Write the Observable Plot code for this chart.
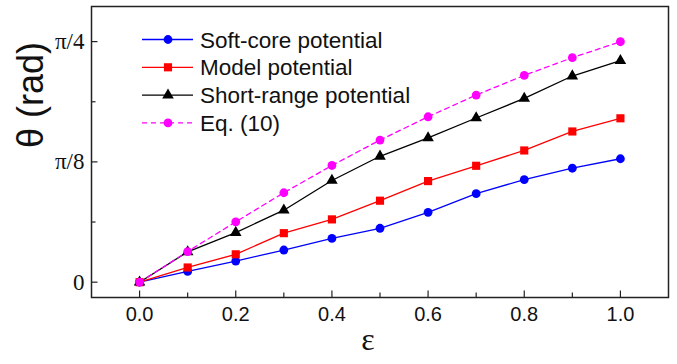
<!DOCTYPE html>
<html>
<head>
<meta charset="utf-8">
<script src="https://cdn.jsdelivr.net/npm/d3@7"></script>
<script src="https://cdn.jsdelivr.net/npm/@observablehq/plot@0.6"></script>
<style>
  html, body { margin: 0; padding: 0; background: #fff; }
  #chart svg { display: block; }
</style>
</head>
<body>
<div id="chart"></div>
<script>
// ---- data ----
const eps = [0.0, 0.1, 0.2, 0.3, 0.4, 0.5, 0.6, 0.7, 0.8, 0.9, 1.0];
const softCore   = [0, 0.035, 0.069, 0.105, 0.143, 0.176, 0.228, 0.289, 0.335, 0.372, 0.403];
const model      = [0, 0.048, 0.091, 0.160, 0.205, 0.266, 0.330, 0.380, 0.430, 0.492, 0.535];
const shortRange = [0, 0.099, 0.162, 0.235, 0.332, 0.411, 0.471, 0.536, 0.600, 0.673, 0.723];
const eq10       = [0, 0.100, 0.197, 0.292, 0.381, 0.464, 0.540, 0.611, 0.675, 0.733, 0.785];

const seriesNames = ["Soft-core potential", "Model potential", "Short-range potential", "Eq. (10)"];
const seriesColors = ["#0000ff", "#ff0000", "#000000", "#ff00ff"];
const seriesSymbols = ["circle", "square", "triangle", "circle"];
const seriesDash = [null, null, null, "5,4"];
const seriesValues = [softCore, model, shortRange, eq10];

const xMajorTicks = [0.0, 0.2, 0.4, 0.6, 0.8, 1.0];
const xMinorTicks = [0.1, 0.3, 0.5, 0.7, 0.9];
const yMajorTicks = [0, Math.PI / 8, Math.PI / 4];
const yMajorLabels = ["0", "π/8", "π/4"];
const yMinorTicks = [Math.PI / 16, 3 * Math.PI / 16];

// ---- layout ----
const W = 677, H = 364;
const mL = 91, mR = 9, mT = 6, mB = 67;
const frameW = W - mL - mR, frameH = H - mT - mB;

const marks = [];
seriesValues.forEach((vals, i) => {
  const data = eps.map((e, k) => ({x: e, y: vals[k]}));
  marks.push(Plot.line(data, {
    x: "x", y: "y", stroke: seriesColors[i], strokeWidth: 1.3,
    strokeDasharray: seriesDash[i] || undefined
  }));
});
const markerR = [4.4, 4.6, 4.3, 4.4];
seriesValues.forEach((vals, i) => {
  const data = eps.map((e, k) => ({x: e, y: vals[k]}));
  marks.push(Plot.dot(data, {
    x: "x", y: "y", symbol: () => seriesSymbols[i], fill: seriesColors[i],
    stroke: "none", r: markerR[i]
  }));
});

const svg = Plot.plot({
  width: W, height: H,
  marginLeft: mL, marginRight: mR, marginTop: mT, marginBottom: mB,
  style: {background: "#fff", overflow: "visible"},
  x: {domain: [-0.1, 1.1]},
  y: {domain: [-0.05, 0.9]},
  symbol: {type: "identity"},
  marks: [
    ...marks,
    // inward ticks
    Plot.tickX(xMajorTicks, {x: d => d, insetTop: frameH - 6.5, stroke: "#222", strokeWidth: 1.2}),
    Plot.tickX(xMinorTicks, {x: d => d, insetTop: frameH - 4.5, stroke: "#222", strokeWidth: 1.2}),
    Plot.tickY(yMajorTicks, {y: d => d, insetRight: frameW - 6.5, stroke: "#222", strokeWidth: 1.2}),
    Plot.tickY(yMinorTicks, {y: d => d, insetRight: frameW - 4.5, stroke: "#222", strokeWidth: 1.2}),
    Plot.axisX({ticks: xMajorTicks, tickFormat: d3.format(".1f"), tickSize: 0, tickPadding: 9,
      fontSize: 20, fontFamily: "Liberation Sans, Arial, sans-serif", label: null, fill: "#111"}),
    Plot.axisY({ticks: yMajorTicks, tickFormat: (d, i) => yMajorLabels[i], tickSize: 0, tickPadding: 7,
      fontSize: 23, fontFamily: "Liberation Serif, Times New Roman, serif", label: null, fill: "#111"}),
    Plot.text(["θ (rad)"], {frameAnchor: "left", dx: -60, dy: -4, rotate: -90, fontSize: 36,
      fontFamily: "Liberation Sans, Arial, sans-serif", fill: "#111"}),
    Plot.text(["ε"], {frameAnchor: "bottom", dx: -12, dy: 52, fontSize: 32,
      fontFamily: "Liberation Serif, Times New Roman, serif", fill: "#111"}),
    Plot.frame({stroke: "#222", strokeWidth: 1.5})
  ]
});

// legend inside the frame
const g = d3.select(svg).append("g").attr("text-anchor", "start");
seriesNames.forEach((name, i) => {
  const y = 39.5 + i * 27.8;
  g.append("line").attr("x1", 142).attr("x2", 193).attr("y1", y).attr("y2", y)
    .attr("stroke", seriesColors[i]).attr("stroke-width", 1.3)
    .attr("stroke-dasharray", seriesDash[i]);
  const symType = seriesSymbols[i] === "square" ? d3.symbolSquare
                : seriesSymbols[i] === "triangle" ? d3.symbolTriangle : d3.symbolCircle;
  g.append("path").attr("transform", `translate(168,${y})`)
    .attr("d", d3.symbol(symType, Math.PI * markerR[i] * markerR[i])())
    .attr("fill", seriesColors[i]);
  g.append("text").attr("x", 200).attr("y", y).attr("dy", "0.36em")
    .attr("text-anchor", "start")
    .attr("font-family", "Liberation Sans, Arial, sans-serif").attr("font-size", 22.5)
    .attr("fill", "#111").text(name);
});

document.getElementById("chart").appendChild(svg);
</script>
</body>
</html>
